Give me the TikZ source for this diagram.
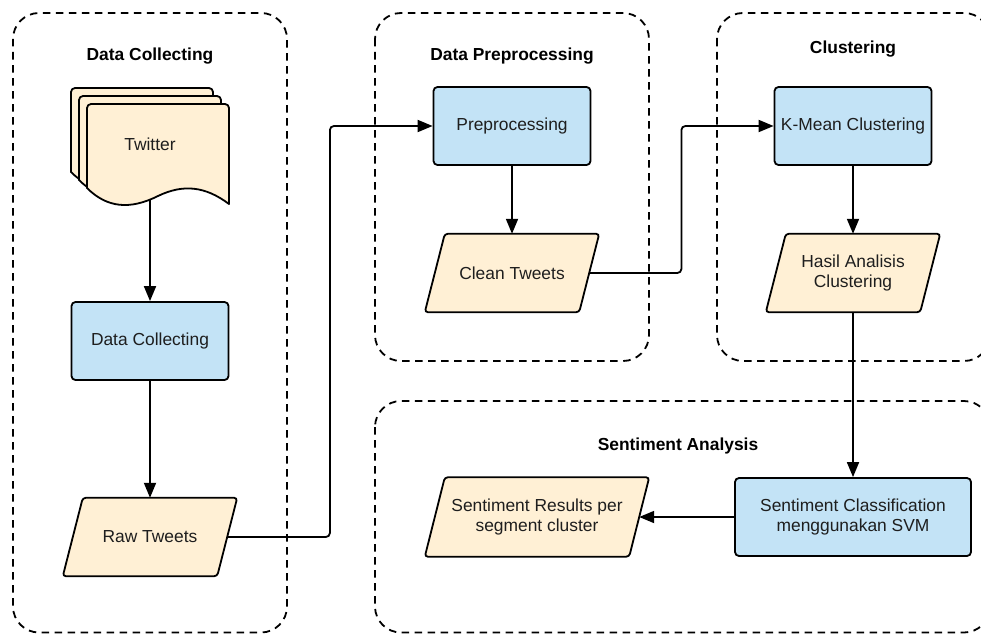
\documentclass[tikz,border=0pt]{standalone}
\usepackage{fontspec}
\setmainfont{Liberation Sans}
\usetikzlibrary{arrows.meta,calc,backgrounds}
\definecolor{procblue}{HTML}{C3E3F6}
\definecolor{datacream}{HTML}{FFF0D5}
\definecolor{inktext}{HTML}{1E1E1E}

% parallelogram (data) outline drawn behind a text node
\newcommand\ioshape[1]{%
  \begin{scope}[on background layer]
    \draw[ioline] ([xshift=-10pt]#1.south west) -- ([xshift=10pt]#1.north west)
      -- ([xshift=10pt]#1.north east) -- ([xshift=-10pt]#1.south east) -- cycle;
  \end{scope}}

\begin{document}
\begin{tikzpicture}[x=1pt, y=-1pt,
  font=\fontsize{17.4}{20}\selectfont,
  proc/.style={draw, line width=1.8pt, fill=procblue, rounded corners=4pt,
    minimum width=157pt, minimum height=78pt, inner sep=0pt, align=center, text=inktext},
  io/.style={minimum height=78pt, inner sep=0pt, align=center, text=inktext},
  ioline/.style={line width=1.8pt, fill=datacream, rounded corners=3pt, line join=round},
  docline/.style={line width=1.8pt, fill=datacream, line join=round},
  group/.style={line width=1.8pt, dash pattern=on 7.5pt off 5.5pt, rounded corners=26pt},
  grouptitle/.style={font=\fontsize{17.4}{20}\selectfont\bfseries},
  arr/.style={line width=1.8pt, -{Triangle[length=15pt,width=12pt]}}]

\useasboundingbox (0,0) rectangle (981,634);

% dashed group frames
\draw[group] (13,13) rectangle (287,632.5);
\draw[group] (375,13) rectangle (649,361);
\draw[group] (717,13) rectangle (990,361);
\draw[group] (375,401) rectangle (990,632.5);

% group titles
\node[grouptitle] (tcollect) at (150,56) {Data Collecting};
\node[grouptitle] (tprep) at (512,56) {Data Preprocessing};
\node[grouptitle] (tclust) at (853,49) {Clustering};
\node[grouptitle] (tsent) at (678,446) {Sentiment Analysis};

% stacked document: Twitter
\foreach \d in {16,8,0}{
  \draw[docline, shift={(-\d,-\d)}] (87,188)
    {[rounded corners=4pt] -- (87,104) -- (229,104) -- (229,150)} -- (229,204)
    .. controls (205,186) and (183,184) .. (158,196)
    .. controls (130,210) and (107,208) .. (87,188) -- cycle;
}
\node[text=inktext] (tw) at (150,144) {Twitter};
\coordinate (twbot) at (150,199);

% process boxes
\node[proc] (dc) at (150,341) {Data Collecting};
\node[proc] (pre) at (512,126) {Preprocessing};
\node[proc] (km) at (853,126) {K-Mean Clustering};
\node[proc, minimum width=236pt] (sc) at (853,517) {Sentiment Classification\\menggunakan SVM};

% data (parallelogram) nodes
\node[io, minimum width=154pt] (raw) at (150,537) {Raw Tweets};
\ioshape{raw}
\node[io, minimum width=154pt] (clean) at (512,273) {Clean Tweets};
\ioshape{clean}
\node[io, minimum width=154pt] (hasil) at (853,273) {Hasil Analisis\\Clustering};
\ioshape{hasil}
\node[io, minimum width=204pt, minimum height=79pt] (sr) at (537,517) {Sentiment Results per\\segment cluster};
\ioshape{sr}

% connectors
\draw[arr] (twbot) -- (dc.north);
\draw[arr] (dc.south) -- (raw.north);
\draw[arr, rounded corners=4pt] (raw.east) -| ($(raw.east)!.5!(pre.west)$) |- (pre.west);
\draw[arr] (pre.south) -- (clean.north);
\draw[arr, rounded corners=4pt] (clean.east) -| ($(clean.east)!.5!(km.west)$) |- (km.west);
\draw[arr] (km.south) -- (hasil.north);
\draw[arr] (hasil.south) -- (sc.north);
\draw[arr] (sc.west) -- (sr.east);

\end{tikzpicture}
\end{document}
